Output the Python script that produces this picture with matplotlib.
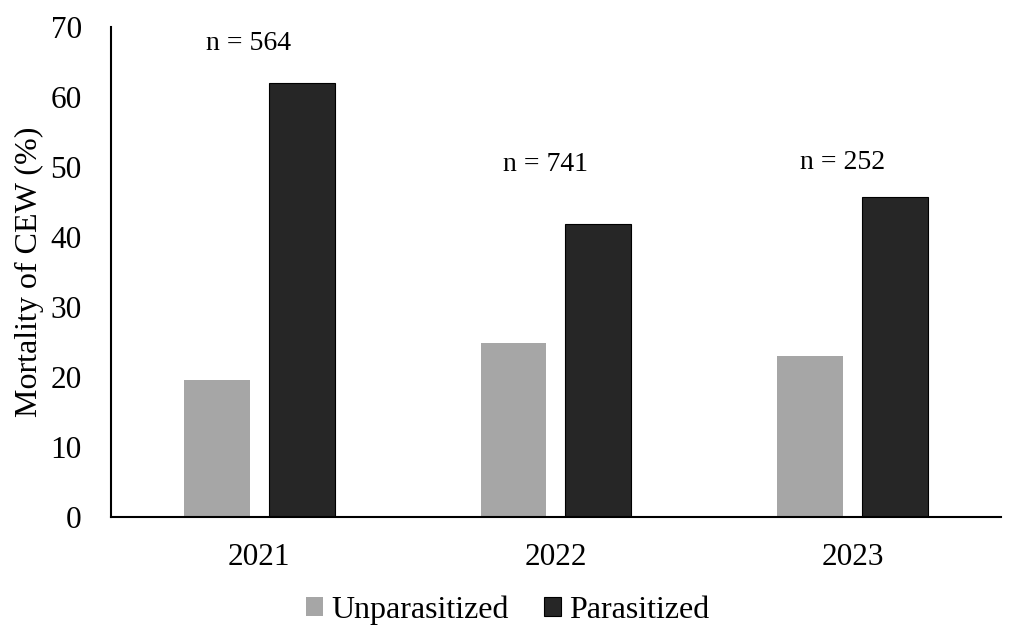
import matplotlib.pyplot as plt
import numpy as np

years = ["2021", "2022", "2023"]
unparasitized = [19.6, 24.9, 23.0]
parasitized = [62.0, 41.9, 45.7]
sample_sizes = [564, 741, 252]
label_heights = [67.6, 50.4, 50.7]

plt.rcParams['font.family'] = ['Liberation Serif', 'DejaVu Serif']

fig = plt.figure(figsize=(10.09, 6.31), dpi=100)
ax = fig.add_axes([0.110, 0.1807, 0.882, 0.7765])

x = np.arange(len(years))
w = 0.222
off = 0.143
ax.bar(x - off, unparasitized, w, color='#a6a6a6', label='Unparasitized')
ax.bar(x + off, parasitized, w, color='#262626', edgecolor='black', linewidth=0.8,
       label='Parasitized')

# sample size above each year
for i, n in enumerate(sample_sizes):
    ax.text(x[i] - 0.035, label_heights[i], f"n = {n}", ha='center', va='center', fontsize=20)

ax.set_xlim(-0.5, 2.5)
ax.set_ylim(0, 70)
ax.set_yticks(range(0, 71, 10))
ax.set_xticks(x)
ax.set_xticklabels(years)
ax.tick_params(axis='both', length=0, labelsize=22.5)
ax.tick_params(axis='y', pad=21)
ax.tick_params(axis='x', pad=19)
ax.spines['top'].set_visible(False)
ax.spines['right'].set_visible(False)
ax.spines['left'].set_linewidth(1.5)
ax.spines['bottom'].set_linewidth(1.5)
ax.set_ylabel("Mortality of CEW (%)", fontsize=23, labelpad=5)

fig.legend(loc='center', bbox_to_anchor=(0.503, 0.033), ncol=2, frameon=False,
           fontsize=23, handlelength=0.55, handleheight=0.55, handletextpad=0.25,
           columnspacing=1.1)

fig.savefig("out.png", dpi=100)
